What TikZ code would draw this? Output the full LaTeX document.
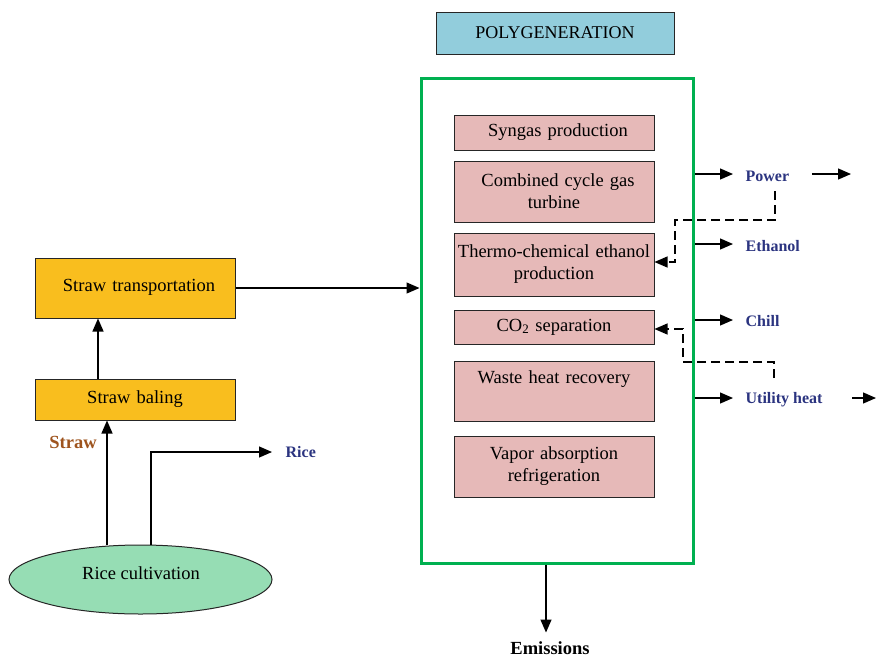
\documentclass[tikz,border=0pt]{standalone}
\usepackage{fontspec}
\setmainfont{Liberation Serif}
\usepackage{tikz}
\usetikzlibrary{arrows.meta, shapes.geometric}

\definecolor{polyblue}{RGB}{146,205,220}
\definecolor{plantgreen}{RGB}{0,176,80}
\definecolor{unitpink}{RGB}{230,185,184}
\definecolor{strawyellow}{RGB}{249,190,30}
\definecolor{ricegreen}{RGB}{150,221,180}
\definecolor{prodblue}{RGB}{43,52,128}
\definecolor{strawbrown}{RGB}{158,84,30}

\begin{document}
\begin{tikzpicture}[
            x = 1pt, y = -1pt, % one unit per pixel, y down
            > = {Triangle[length=13pt, width=11pt]}, % arrow head style
            line width = 1.3pt % line style
        ]
        \tikzstyle{unit}=[
            draw = black!85,
            line width = 1pt,
            fill = unitpink,
            minimum width = 200pt,
            text width = 196pt,
            align = center,
            inner sep = 0pt,
            font = \fontsize{18.5}{22}\selectfont
        ]
        \tikzstyle{stage}=[unit, fill = strawyellow]
        \tikzstyle{product}=[
            text = prodblue,
            font = \fontsize{16}{18}\selectfont\bfseries,
            anchor = west,
            inner sep = 0pt
        ]
        \tikzstyle{feedback}=[->, line width = 1.1pt, dash pattern = on 9pt off 5pt]

        \useasboundingbox (0,0) rectangle (876,659);

        % polygeneration plant
        \node[draw = black!85, line width = 1pt, fill = polyblue, minimum width = 238pt,
              minimum height = 42pt, font = \fontsize{18}{20}\selectfont] (title) at (555,33) {POLYGENERATION};
        \node[draw = plantgreen, line width = 3pt, minimum width = 272pt,
              minimum height = 485pt] (poly) at (557,320.5) {};

        \node[unit, minimum height = 35pt] (syngas) at (554,132.5) {\hspace{8pt}Syngas production};
        \node[unit, minimum height = 61pt] (ccgt) at (554,191.5) {\hspace{8pt}Combined cycle gas\\turbine};
        \node[unit, minimum height = 63pt] (thermo) at (554,264.5) {Thermo-chemical ethanol\\production};
        \node[unit, minimum height = 34pt] (co2) at (554,327) {CO\textsubscript{2} separation};
        \node[unit, minimum height = 60pt] (whr) at (554,391) {Waste heat recovery\\\strut};
        \node[unit, minimum height = 61pt] (var) at (554,466.5) {Vapor absorption\\refrigeration};

        % straw supply chain
        \node[stage, minimum height = 60pt] (transport) at (135,288) {\hspace{8pt}\raisebox{6pt}{Straw transportation}};
        \node[stage, minimum height = 41pt] (baling) at (135,399.5) {Straw baling};
        \node[ellipse, draw = black!85, line width = 1pt, fill = ricegreen, minimum width = 263pt,
              minimum height = 69pt, inner sep = 0pt, font = \fontsize{18.5}{22}\selectfont] (rice) at (140.5,579.5) {};
        \node[font = \fontsize{18.5}{22}\selectfont] (ricetext) at (141,573) {Rice cultivation};

        \node[text = strawbrown, font = \fontsize{18.5}{20}\selectfont\bfseries] (straw) at (73,442) {Straw};
        \node[product] (riceout) at (285,452) {Rice};

        % products
        \node[product] (power) at (745,176) {Power};
        \node[product] (ethanol) at (745,246) {Ethanol};
        \node[product] (chill) at (745,321) {Chill};
        \node[product] (heat) at (745,400) {Utility heat};
        \node[font = \fontsize{18.5}{20}\selectfont\bfseries] (emis) at (550,648) {Emissions};

        \coordinate (powerout) at (851,174);
        \coordinate (heatout) at (876,398);

        \draw[->] ([xshift=-37pt]baling.north) -- ([xshift=-37pt]transport.south);
        \draw[->] ([xshift=-33.5pt]rice.north) -- ([xshift=-28pt]baling.south);
        \draw[->] ([xshift=10.5pt]rice.north) |- ([xshift=-13pt]riceout.west);
        \draw[->] (transport.east) -- (poly.west |- transport.east);

        \draw[->] (poly.east |- 0,174) -- ([xshift=-12pt,yshift=2pt]power.west);
        \draw[->] ([xshift=22pt,yshift=2pt]power.east) -- (powerout);
        \draw[->] (poly.east |- 0,244) -- ([xshift=-12pt,yshift=2pt]ethanol.west);
        \draw[->] (poly.east |- 0,320) -- ([xshift=-12pt,yshift=1pt]chill.west);
        \draw[->] (poly.east |- 0,398) -- ([xshift=-12pt,yshift=2pt]heat.west);
        \draw[->] ([xshift=29pt,yshift=2pt]heat.east) -- (heatout);
        \draw[->] (poly.south -| 546,0) -- ([xshift=-4pt,yshift=5pt]emis.north);

        % heat returned to the units
        \draw[feedback] (775,191) |- (675,220) |- ([yshift=2.5pt]thermo.east);
        \draw[feedback] (774,378) |- (683,362) |- ([yshift=-2pt]co2.east);
    \end{tikzpicture}
\end{document}
